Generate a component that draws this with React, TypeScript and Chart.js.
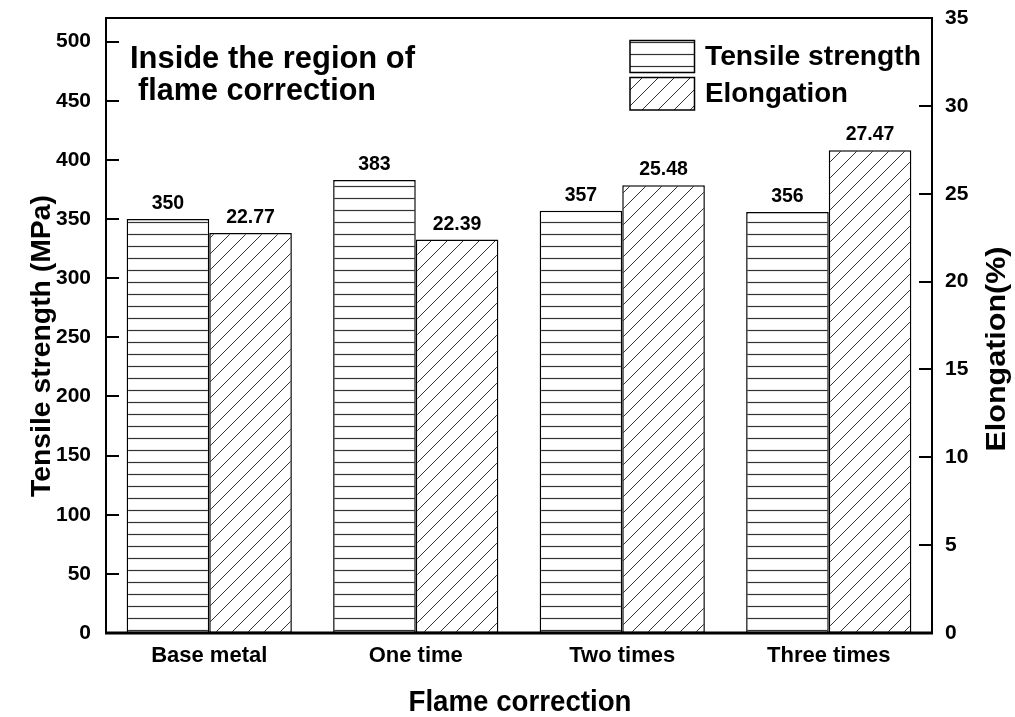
import React, { useEffect, useRef } from 'react';
import { Chart, registerables } from 'chart.js';

Chart.register(...registerables);

const categories = ['Base metal', 'One time', 'Two times', 'Three times'];
const tensileStrength = [350, 383, 357, 356];
const elongation = [22.77, 22.39, 25.48, 27.47];
const tensileTicks = [0, 50, 100, 150, 200, 250, 300, 350, 400, 450, 500];
const elongationTicks = [0, 5, 10, 15, 20, 25, 30, 35];
const tensileLabels = tensileStrength.map((v) => String(v));
const elongationLabels = elongation.map((v) => v.toFixed(2));
const seriesNames = ['Tensile strength', 'Elongation'];
const annotationLines = ['Inside the region of', 'flame correction'];

const FONT = '"Liberation Sans", Arial, Helvetica, sans-serif';

function makePattern(ctx: CanvasRenderingContext2D, kind: 'h' | 'd'): CanvasPattern {
  const c = document.createElement('canvas');
  if (kind === 'h') {
    c.width = 12;
    c.height = 12;
    const g = c.getContext('2d')!;
    g.fillStyle = '#fff';
    g.fillRect(0, 0, 12, 12);
    g.strokeStyle = '#333';
    g.lineWidth = 1.2;
    g.beginPath();
    g.moveTo(0, 6.5);
    g.lineTo(12, 6.5);
    g.stroke();
  } else {
    const s = 16;
    c.width = s;
    c.height = s;
    const g = c.getContext('2d')!;
    g.fillStyle = '#fff';
    g.fillRect(0, 0, s, s);
    g.strokeStyle = '#333';
    g.lineWidth = 1;
    g.beginPath();
    g.moveTo(0, s);
    g.lineTo(s, 0);
    g.moveTo(-2, 2);
    g.lineTo(2, -2);
    g.moveTo(s - 2, s + 2);
    g.lineTo(s + 2, s - 2);
    g.stroke();
  }
  return ctx.createPattern(c, 'repeat')!;
}

function fitText(
  ctx: CanvasRenderingContext2D,
  text: string,
  x: number,
  y: number,
  size: number,
  width: number,
  align: CanvasTextAlign = 'left',
  rot = 0
) {
  ctx.save();
  ctx.font = `bold ${size}px ${FONT}`;
  const w = ctx.measureText(text).width;
  const sx = width ? width / w : 1;
  ctx.translate(x, y);
  if (rot) ctx.rotate(rot);
  ctx.scale(sx, 1);
  ctx.textAlign = align;
  ctx.textBaseline = 'alphabetic';
  ctx.fillStyle = '#000';
  ctx.fillText(text, 0, 0);
  ctx.restore();
}

export default function App() {
  const ref = useRef<HTMLCanvasElement>(null);

  useEffect(() => {
    const canvas = ref.current!;
    const ctx0 = canvas.getContext('2d')!;
    const hPat = makePattern(ctx0, 'h');
    const dPat = makePattern(ctx0, 'd');

    const decor = {
      id: 'decor',
      afterDraw(chart: any) {
        const { ctx, chartArea: a, scales } = chart;
        ctx.save();
        ctx.strokeStyle = '#000';
        // ticks (inward)
        ctx.lineWidth = 2;
        ctx.beginPath();
        scales.y.ticks.forEach((t: any) => {
          const p = Math.round(scales.y.getPixelForValue(t.value));
          ctx.moveTo(a.left, p);
          ctx.lineTo(a.left + 13, p);
        });
        scales.y1.ticks.forEach((t: any) => {
          const p = Math.round(scales.y1.getPixelForValue(t.value));
          ctx.moveTo(a.right, p);
          ctx.lineTo(a.right - 13, p);
        });
        ctx.stroke();
        // frame
        ctx.lineWidth = 2;
        ctx.strokeRect(a.left, a.top, a.right - a.left, a.bottom - a.top);
        ctx.lineWidth = 3;
        ctx.beginPath();
        ctx.moveTo(a.left - 1, a.bottom);
        ctx.lineTo(a.right + 1, a.bottom);
        ctx.stroke();

        // value labels
        ctx.fillStyle = '#000';
        ctx.font = `bold 19.5px ${FONT}`;
        ctx.textAlign = 'center';
        ctx.textBaseline = 'alphabetic';
        const lbls = [tensileLabels, elongationLabels];
        [0, 1].forEach((di) => {
          const meta = chart.getDatasetMeta(di);
          meta.data.forEach((el: any, j: number) => {
            ctx.fillText(lbls[di][j], el.x, el.y - 10);
          });
        });

        // annotation
        fitText(ctx, annotationLines[0], 130, 67.5, 31, 285);
        fitText(ctx, annotationLines[1], 138, 100, 31, 238);

        // legend
        const boxes = [
          { y: 40.5, h: 32, pat: hPat },
          { y: 77.5, h: 32.5, pat: dPat },
        ];
        boxes.forEach((b) => {
          ctx.fillStyle = b.pat;
          ctx.fillRect(630, b.y, 64.5, b.h);
          ctx.lineWidth = 1.5;
          ctx.strokeStyle = '#000';
          ctx.strokeRect(630, b.y, 64.5, b.h);
        });
        fitText(ctx, seriesNames[0], 705, 65, 27, 216);
        fitText(ctx, seriesNames[1], 705, 101.5, 27, 143);

        // axis titles
        fitText(ctx, 'Flame correction', 520, 711, 29, 223, 'center');
        fitText(ctx, 'Tensile strength (MPa)', 50, 346, 28.5, 302, 'center', -Math.PI / 2);
        fitText(ctx, 'Elongation(%)', 1005, 349, 28, 205, 'center', -Math.PI / 2);
        ctx.restore();
      },
    };

    const chart = new Chart(canvas, {
      type: 'bar',
      data: {
        labels: categories,
        datasets: [
          {
            label: seriesNames[0],
            data: tensileStrength,
            yAxisID: 'y',
            backgroundColor: hPat as any,
            borderColor: '#000',
            borderWidth: 1.5,
            borderSkipped: false,
            categoryPercentage: 0.8,
            barPercentage: 1,
          },
          {
            label: seriesNames[1],
            data: elongation,
            yAxisID: 'y1',
            backgroundColor: dPat as any,
            borderColor: '#000',
            borderWidth: 1.5,
            borderSkipped: false,
            categoryPercentage: 0.8,
            barPercentage: 1,
          },
        ],
      },
      options: {
        responsive: false,
        maintainAspectRatio: false,
        animation: false,
        layout: { padding: { top: 18, left: 0, right: 0, bottom: 0 } },
        plugins: {
          legend: { display: false },
          title: { display: false },
          tooltip: { enabled: false },
        },
        scales: {
          x: {
            grid: { display: false, drawTicks: false },
            border: { display: false },
            ticks: {
              color: '#000',
              padding: 10,
              font: { family: FONT, size: 22, weight: 'bold' },
            },
            afterFit: (s: any) => {
              s.height = 84;
              s.paddingLeft = 0;
              s.paddingRight = 0;
            },
          },
          y: {
            position: 'left',
            min: 0,
            max: 520,
            grid: { display: false, drawTicks: false },
            border: { display: false },
            ticks: {
              color: '#000',
              padding: 15,
              font: { family: FONT, size: 21, weight: 'bold' },
            },
            afterBuildTicks: (s: any) => {
              s.ticks = tensileTicks.map((v) => ({ value: v }));
            },
            afterFit: (s: any) => {
              s.width = 106;
              s.paddingTop = 0;
              s.paddingBottom = 0;
            },
          },
          y1: {
            position: 'right',
            min: 0,
            max: 35,
            grid: { display: false, drawTicks: false },
            border: { display: false },
            ticks: {
              color: '#000',
              padding: 13,
              font: { family: FONT, size: 21, weight: 'bold' },
            },
            afterBuildTicks: (s: any) => {
              s.ticks = elongationTicks.map((v) => ({ value: v }));
            },
            afterFit: (s: any) => {
              s.width = 83;
              s.paddingTop = 0;
              s.paddingBottom = 0;
            },
          },
        },
      } as any,
      plugins: [decor],
    });
    return () => chart.destroy();
  }, []);

  return (
    <div style={{ position: 'absolute', left: 0, top: 0, width: 1015, height: 717, background: '#fff' }}>
      <canvas ref={ref} width={1015} height={717} style={{ display: 'block' }} />
    </div>
  );
}
